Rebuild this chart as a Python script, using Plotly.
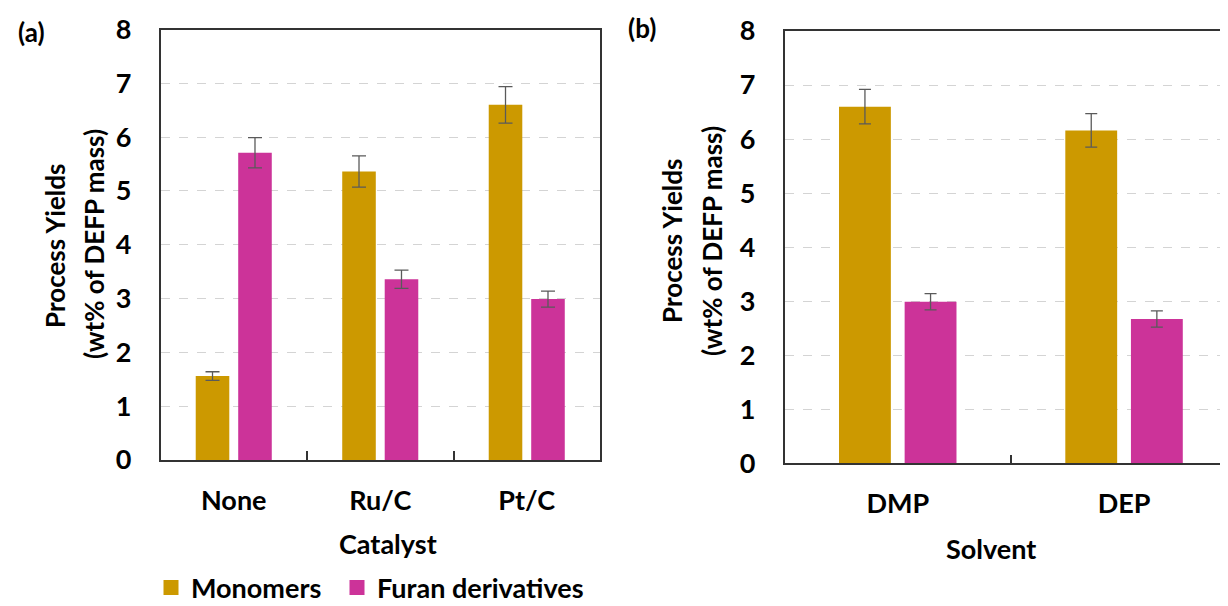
import plotly.graph_objects as go

# ---- data ----
catalysts = ["None", "Ru/C", "Pt/C"]
cat_monomers = [1.56, 5.36, 6.60]
cat_monomers_err = [0.08, 0.29, 0.34]
cat_furan = [5.71, 3.36, 2.99]
cat_furan_err = [0.28, 0.17, 0.15]

solvents = ["DMP", "DEP"]
sol_monomers = [6.60, 6.16]
sol_monomers_err = [0.32, 0.31]
sol_furan = [2.99, 2.67]
sol_furan_err = [0.15, 0.15]

series_names = ["Monomers", "Furan derivatives"]
y_ticks = [0, 1, 2, 3, 4, 5, 6, 7, 8]

# ---- style ----
W, H = 1228, 606
OFF = 8  # page body margin offset
colors = ["#CC9900", "#CC3399"]
FONT = "Lato"
FS = 27
FS_T = 26
ERR_COLOR = "#5a5a5a"
LINE_COLOR = "#333333"


def px_x(p):
    return (p - OFF) / W


def px_y(p):
    return 1 - (p - OFF) / H


fig = go.Figure()

cat_x = list(range(len(catalysts)))
sol_x = list(range(len(solvents)))

for name, vals, errs, col in [
    (series_names[0], cat_monomers, cat_monomers_err, colors[0]),
    (series_names[1], cat_furan, cat_furan_err, colors[1]),
]:
    fig.add_trace(go.Bar(
        x=cat_x, y=vals, name=name, marker_color=col, marker_line_width=0,
        error_y=dict(type="data", array=errs, color=ERR_COLOR, thickness=1.3, width=7),
        xaxis="x", yaxis="y", showlegend=False,
    ))

for name, vals, errs, col in [
    (series_names[0], sol_monomers, sol_monomers_err, colors[0]),
    (series_names[1], sol_furan, sol_furan_err, colors[1]),
]:
    fig.add_trace(go.Bar(
        x=sol_x, y=vals, name=name, marker_color=col, marker_line_width=0,
        error_y=dict(type="data", array=errs, color=ERR_COLOR, thickness=1.3, width=6),
        xaxis="x2", yaxis="y2", showlegend=False,
    ))

# legend entries (square swatches)
for name, col, leg in [(series_names[0], colors[0], "legend"),
                       (series_names[1], colors[1], "legend2")]:
    fig.add_trace(go.Scatter(
        x=[None], y=[None], mode="markers", name=name,
        marker=dict(symbol="square", size=15, color=col),
        xaxis="x", yaxis="y", showlegend=True, legend=leg, hoverinfo="skip",
    ))

tickfont = dict(family=FONT, size=FS, color="black", weight="bold")

yaxis_common = dict(
    range=[0, 8], tickmode="array", tickvals=y_ticks, ticktext=[str(v) for v in y_ticks],
    showgrid=True, gridcolor="#d4d4d4", griddash="dash", gridwidth=1,
    showline=True, linecolor=LINE_COLOR, linewidth=1.5, zeroline=False,
    ticks="", tickfont=tickfont, ticklabelstandoff=22, automargin=False,
)

xaxis_common = dict(
    showgrid=False, zeroline=False, showline=True, linecolor=LINE_COLOR, linewidth=1.5,
    mirror=True, ticks="", tickfont=tickfont, ticklabelstandoff=16, automargin=False,
    tickmode="array",
    minor=dict(tickmode="array", tickvals=[0.5, 1.5], ticks="inside", ticklen=9,
               tickcolor=LINE_COLOR, tickwidth=1.5, showgrid=False),
)

legend_common = dict(
    orientation="h", xanchor="left", y=px_y(588), yanchor="middle",
    font=dict(family=FONT, size=FS, color="black", weight="bold"),
    bgcolor="rgba(0,0,0,0)", itemclick=False, itemdoubleclick=False,
)

# panel b: category width 226.3 px, starts at 784.6 px; figure right edge at 1228+OFF
b_left = 784.6
b_cat = 226.3
b_right_ref = W + OFF
b_range_end = (b_right_ref - b_left) / b_cat - 0.5

fig.update_layout(
    width=W, height=H,
    margin=dict(l=0, r=0, t=0, b=0, autoexpand=False),
    paper_bgcolor="white", plot_bgcolor="white",
    barmode="group", bargap=0.42, bargroupgap=0.21,
    font=dict(family=FONT, size=FS, color="black"),
    showlegend=True,
    legend=dict(legend_common, x=px_x(151)),
    legend2=dict(legend_common, x=px_x(337)),
    xaxis=dict(xaxis_common, domain=[px_x(160.5), px_x(600)], range=[-0.5, 2.5],
               tickvals=cat_x, ticktext=catalysts, anchor="y"),
    yaxis=dict(yaxis_common, domain=[px_y(460), px_y(29.5)], anchor="x", mirror=True),
    xaxis2=dict(xaxis_common, domain=[px_x(b_left), 1.0], range=[-0.5, b_range_end],
                tickvals=sol_x, ticktext=solvents, anchor="y2"),
    yaxis2=dict(yaxis_common, domain=[px_y(463.3), px_y(31)], anchor="x2", mirror=False),
)

ann_font = dict(family=FONT, size=FS_T, color="black", weight="bold")
annotations = [
    dict(text="(a)", x=px_x(31), y=px_y(32)),
    dict(text="(b)", x=px_x(642), y=px_y(28)),
    dict(text="Process Yields", x=px_x(55), y=px_y(246), textangle=-90),
    dict(text="(wt% of DEFP mass)", x=px_x(94), y=px_y(244), textangle=-90),
    dict(text="Process Yields", x=px_x(672), y=px_y(241), textangle=-90),
    dict(text="(wt% of DEFP mass)", x=px_x(712), y=px_y(241), textangle=-90),
    dict(text="Catalyst", x=px_x(388), y=px_y(543), font=dict(ann_font, size=FS)),
    dict(text="Solvent", x=px_x(991), y=px_y(548), font=dict(ann_font, size=FS)),
]
for a in annotations:
    a.setdefault("font", ann_font)
    a.update(xref="paper", yref="paper", xanchor="center", yanchor="middle",
             showarrow=False)
fig.update_layout(annotations=annotations)

fig.write_html("out.html")
